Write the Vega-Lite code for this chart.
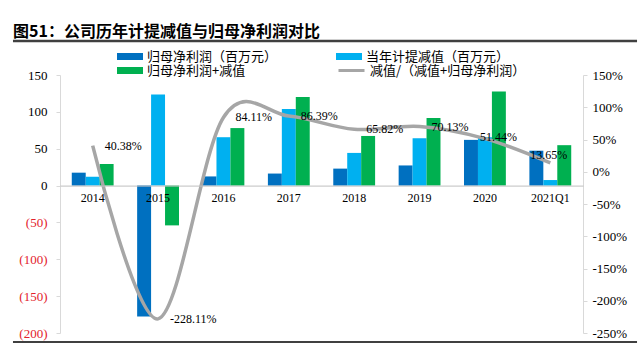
{
  "$schema": "https://vega.github.io/schema/vega-lite/v6.json",
  "autosize": {"type": "none"},
  "width": 523,
  "height": 258,
  "padding": {"left": 60, "top": 75, "right": 57, "bottom": 19},
  "background": "white",
  "title": {
    "text": "图51：公司历年计提减值与归母净利润对比",
    "anchor": "start",
    "frame": "group",
    "dx": -47,
    "offset": 0,
    "font": "Noto Sans CJK SC",
    "fontSize": 16,
    "fontWeight": "bold",
    "color": "#000000"
  },
  "config": {
    "view": {"stroke": null},
    "axis": {"grid": false, "labelOverlap": false},
    "locale": {"number": {"decimal": ".", "thousands": ",", "grouping": [3], "currency": ["", ""], "minus": "-"}}
  },
  "datasets": {
    "bars": [
      {"period": "2014", "series": "归母净利润（百万元）", "value": 17.5},
      {"period": "2014", "series": "当年计提减值（百万元）", "value": 11.8},
      {"period": "2014", "series": "归母净利润+减值", "value": 29.3},
      {"period": "2015", "series": "归母净利润（百万元）", "value": -177.5},
      {"period": "2015", "series": "当年计提减值（百万元）", "value": 123.5},
      {"period": "2015", "series": "归母净利润+减值", "value": -54.0},
      {"period": "2016", "series": "归母净利润（百万元）", "value": 12.4},
      {"period": "2016", "series": "当年计提减值（百万元）", "value": 65.6},
      {"period": "2016", "series": "归母净利润+减值", "value": 78.0},
      {"period": "2017", "series": "归母净利润（百万元）", "value": 16.3},
      {"period": "2017", "series": "当年计提减值（百万元）", "value": 104.0},
      {"period": "2017", "series": "归母净利润+减值", "value": 120.3},
      {"period": "2018", "series": "归母净利润（百万元）", "value": 23.0},
      {"period": "2018", "series": "当年计提减值（百万元）", "value": 44.3},
      {"period": "2018", "series": "归母净利润+减值", "value": 67.3},
      {"period": "2019", "series": "归母净利润（百万元）", "value": 27.3},
      {"period": "2019", "series": "当年计提减值（百万元）", "value": 64.2},
      {"period": "2019", "series": "归母净利润+减值", "value": 91.5},
      {"period": "2020", "series": "归母净利润（百万元）", "value": 62.0},
      {"period": "2020", "series": "当年计提减值（百万元）", "value": 65.6},
      {"period": "2020", "series": "归母净利润+减值", "value": 127.6},
      {"period": "2021Q1", "series": "归母净利润（百万元）", "value": 47.3},
      {"period": "2021Q1", "series": "当年计提减值（百万元）", "value": 7.5},
      {"period": "2021Q1", "series": "归母净利润+减值", "value": 54.8}
    ],
    "ratio": [
      {"period": "2014", "ratio": 0.4038},
      {"period": "2015", "ratio": -2.2811},
      {"period": "2016", "ratio": 0.8411},
      {"period": "2017", "ratio": 0.8639},
      {"period": "2018", "ratio": 0.6582},
      {"period": "2019", "ratio": 0.7013},
      {"period": "2020", "ratio": 0.5144},
      {"period": "2021Q1", "ratio": 0.1365}
    ]
  },
  "layer": [
    {
      "layer": [
        {
          "data": {"name": "bars"},
          "mark": {"type": "bar"},
          "encoding": {
            "x": {
              "field": "period", "type": "nominal", "sort": null, "title": null,
              "scale": {"paddingInner": 0.36, "paddingOuter": 0.18},
              "axis": {
                "orient": "bottom", "offset": -147.4, "labelAngle": 0, "ticks": false,
                "domainColor": "#bfbfbf", "domainWidth": 1,
                "labelFont": "Liberation Serif", "labelFontSize": 12, "labelColor": "#000000",
                "labelPadding": 7, "zindex": 1
              }
            },
            "xOffset": {
              "field": "series", "type": "nominal",
              "sort": ["归母净利润（百万元）", "当年计提减值（百万元）", "归母净利润+减值"],
              "scale": {"paddingInner": 0, "paddingOuter": 0}
            },
            "y": {
              "field": "value", "type": "quantitative", "title": null,
              "scale": {"domain": [-200, 150], "nice": false, "zero": false},
              "axis": {
                "orient": "left",
                "values": [-200, -150, -100, -50, 0, 50, 100, 150],
                "labelOverlap": false,
                "labelExpr": "datum.value < 0 ? '(' + format(-datum.value, 'd') + ')' : format(datum.value, 'd')",
                "labelColor": {"condition": {"test": "datum.value < 0", "value": "#e3222b"}, "value": "#000000"},
                "labelFont": "Liberation Serif", "labelFontSize": 13, "labelPadding": 9,
                "domainColor": "#d9d9d9", "tickColor": "#d9d9d9", "tickSize": 4
              }
            },
            "color": {
              "field": "series", "type": "nominal",
              "scale": {
                "domain": ["归母净利润（百万元）", "当年计提减值（百万元）", "归母净利润+减值"],
                "range": ["#0070C0", "#00B0F0", "#00B050"]
              },
              "legend": {
                "orient": "none", "legendX": 57, "legendY": -25.5,
                "direction": "horizontal", "columns": 2, "title": null,
                "symbolType": "M-1,-0.27H1V0.27H-1Z", "symbolSize": 676, "symbolStrokeWidth": 0,
                "labelFont": "Noto Sans CJK SC", "labelFontSize": 13, "labelColor": "#000000",
                "labelOffset": 4, "columnPadding": 58, "rowPadding": 0, "clipHeight": 14
              }
            }
          }
        },
        {
          "data": {"name": "ratio"},
          "mark": {"type": "line", "interpolate": "cardinal", "tension": 0, "strokeWidth": 3.5},
          "encoding": {
            "x": {"field": "period", "type": "nominal", "sort": null, "title": null},
            "y": {
              "field": "ratio", "type": "quantitative", "title": null,
              "scale": {"domain": [-2.5, 1.5], "nice": false, "zero": false},
              "axis": {
                "orient": "right",
                "values": [-2.5, -2, -1.5, -1, -0.5, 0, 0.5, 1, 1.5],
                "labelOverlap": false,
                "format": ".0%",
                "labelFont": "Liberation Serif", "labelFontSize": 13, "labelColor": "#000000",
                "labelPadding": 5,
                "domainColor": "#d9d9d9", "tickColor": "#d9d9d9", "tickSize": 4
              }
            },
            "color": {
              "datum": "减值/（减值+归母净利润）",
              "scale": {"range": ["#a6a6a6"]},
              "legend": {
                "orient": "none", "legendX": 277, "legendY": -11.5, "title": null,
                "symbolType": "stroke", "symbolSize": 676, "symbolStrokeWidth": 3,
                "labelFont": "Noto Sans CJK SC", "labelFontSize": 13, "labelColor": "#000000",
                "labelOffset": 4, "clipHeight": 14
              }
            }
          }
        },
        {
          "data": {"name": "ratio"},
          "transform": [{"filter": "datum.period != '2020' && datum.period != '2021Q1'"}],
          "mark": {"type": "text", "align": "left", "baseline": "middle", "dx": 12, "font": "Liberation Serif", "fontSize": 12, "color": "#000000"},
          "encoding": {
            "x": {"field": "period", "type": "nominal", "sort": null, "title": null},
            "y": {"field": "ratio", "type": "quantitative", "title": null, "scale": {"domain": [-2.5, 1.5], "nice": false, "zero": false}, "axis": null},
            "text": {"field": "ratio", "type": "quantitative", "format": ".2%"}
          }
        },
        {
          "data": {"name": "ratio"},
          "transform": [{"filter": "datum.period == '2020'"}],
          "mark": {"type": "text", "align": "left", "baseline": "middle", "dx": -5, "dy": -2, "font": "Liberation Serif", "fontSize": 12, "color": "#000000"},
          "encoding": {
            "x": {"field": "period", "type": "nominal", "sort": null, "title": null},
            "y": {"field": "ratio", "type": "quantitative", "title": null, "scale": {"domain": [-2.5, 1.5], "nice": false, "zero": false}, "axis": null},
            "text": {"field": "ratio", "type": "quantitative", "format": ".2%"}
          }
        },
        {
          "data": {"name": "ratio"},
          "transform": [{"filter": "datum.period == '2021Q1'"}],
          "mark": {"type": "text", "align": "left", "baseline": "middle", "dx": -20, "dy": -8, "font": "Liberation Serif", "fontSize": 12, "color": "#000000"},
          "encoding": {
            "x": {"field": "period", "type": "nominal", "sort": null, "title": null},
            "y": {"field": "ratio", "type": "quantitative", "title": null, "scale": {"domain": [-2.5, 1.5], "nice": false, "zero": false}, "axis": null},
            "text": {"field": "ratio", "type": "quantitative", "format": ".2%"}
          }
        }
      ],
      "resolve": {"scale": {"y": "independent", "color": "independent"}}
    },
    {
      "data": {"values": [{}]},
      "layer": [
        {
          "mark": {"type": "rule", "color": "#404040", "strokeWidth": 2.5},
          "encoding": {
            "x": {"datum": -0.0899, "type": "quantitative", "scale": {"domain": [0, 1], "nice": false, "zero": false}, "axis": null},
            "x2": {"datum": 1.1033},
            "y": {"datum": 196.1, "type": "quantitative", "scale": {"domain": [-200, 150], "nice": false, "zero": false}, "axis": null}
          }
        },
        {
          "mark": {"type": "rule", "color": "#404040", "strokeWidth": 2},
          "encoding": {
            "x": {"datum": -0.0899, "type": "quantitative"},
            "x2": {"datum": 1.1033},
            "y": {"datum": -212.2, "type": "quantitative"}
          }
        }
      ]
    }
  ],
  "resolve": {"scale": {"x": "independent", "y": "independent"}}
}
